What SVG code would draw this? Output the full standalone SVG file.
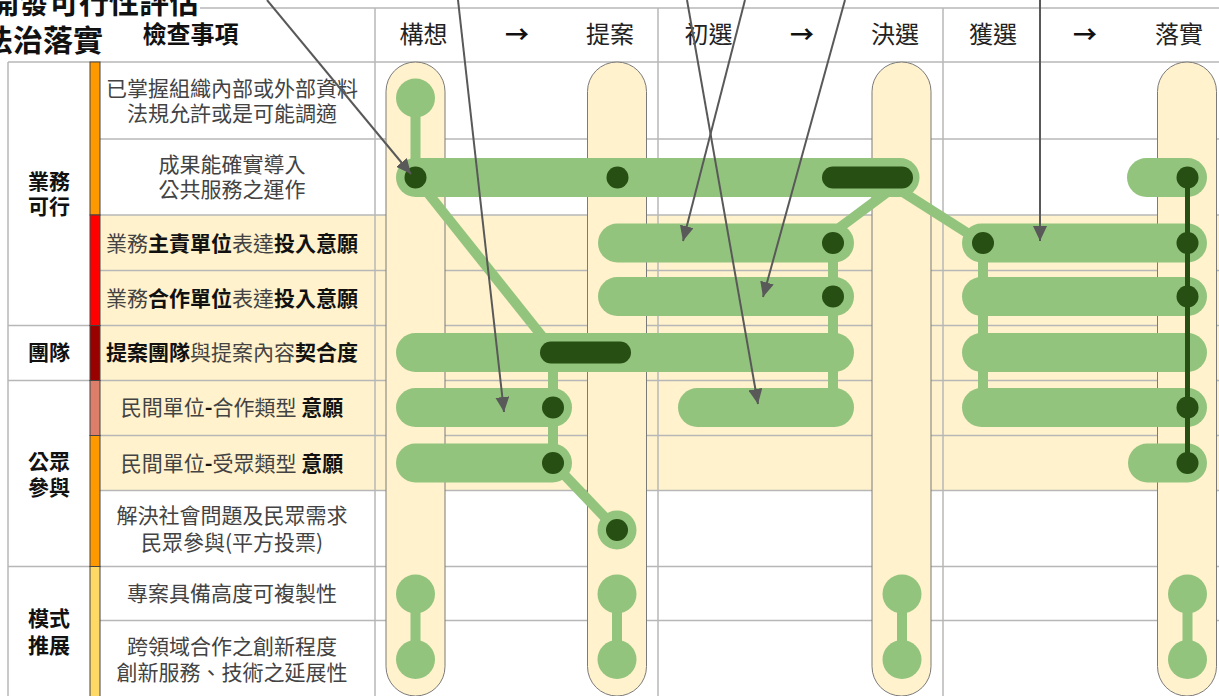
<svg xmlns="http://www.w3.org/2000/svg" width="1219" height="696" viewBox="0 0 1219 696">
<style>
text{font-family:"Noto Sans CJK TC","Noto Sans CJK SC",sans-serif;}
.grid{stroke:#b7b7b7;stroke-width:1.5;fill:none;}
.pill{fill:#fff2cc;stroke:#7a7a7a;stroke-width:1;}
.bar{stroke:#93c47d;stroke-width:39;stroke-linecap:round;fill:none;}
.dbar{stroke:#274e13;stroke-width:22;stroke-linecap:round;fill:none;}
.con{stroke:#93c47d;stroke-width:10;fill:none;}
.lc{fill:#93c47d;}
.dot{fill:#274e13;}
.arr{stroke:#595959;stroke-width:2;fill:none;marker-end:url(#ah);}
.item{font-size:21px;fill:#434343;text-anchor:middle;}
.b{font-weight:bold;fill:#111;}
.grp{font-size:21px;font-weight:bold;fill:#111;text-anchor:middle;}
.hd{font-size:24px;fill:#222;text-anchor:middle;}
.hb{font-size:24px;font-weight:bold;fill:#111;text-anchor:middle;}
.ttl{font-size:30px;font-weight:bold;fill:#111;text-anchor:end;}
</style>
<defs>
<marker id="ah" markerUnits="userSpaceOnUse" markerWidth="16" markerHeight="14" refX="15" refY="7" orient="auto">
<path d="M0,0 L15,7 L0,14 z" fill="#595959"/>
</marker>
</defs>
<rect width="1219" height="696" fill="#fff"/>
<rect x="100" y="215" width="1119" height="275.5" fill="#fff2cc"/>
<g id="grid" class="grid">
<line x1="200" y1="8" x2="1219" y2="8"/>
<line x1="8" y1="62" x2="1219" y2="62"/>
<line x1="8" y1="62" x2="8" y2="696"/>
<line x1="375" y1="8" x2="375" y2="696"/>
<line x1="658" y1="8" x2="658" y2="696"/>
<line x1="943" y1="8" x2="943" y2="696"/>
<line x1="8" y1="325.5" x2="1219" y2="325.5"/>
<line x1="8" y1="380.5" x2="1219" y2="380.5"/>
<line x1="8" y1="566.5" x2="1219" y2="566.5"/>
<line x1="90" y1="139" x2="1219" y2="139"/>
<line x1="90" y1="215" x2="1219" y2="215"/>
<line x1="90" y1="270.5" x2="1219" y2="270.5"/>
<line x1="90" y1="435.5" x2="1219" y2="435.5"/>
<line x1="90" y1="490.5" x2="1219" y2="490.5"/>
<line x1="90" y1="620.5" x2="1219" y2="620.5"/>
</g>
<g id="colorbar" stroke="#444" stroke-width="1">
<rect x="90" y="62" width="10" height="153" fill="#ff9900"/>
<rect x="90" y="215" width="10" height="110.5" fill="#ff0000"/>
<rect x="90" y="325.5" width="10" height="55" fill="#990000"/>
<rect x="90" y="380.5" width="10" height="55" fill="#dd7e6b"/>
<rect x="90" y="435.5" width="10" height="131" fill="#ff9900"/>
<rect x="90" y="566.5" width="10" height="131" fill="#ffd966"/>
</g>
<g id="title">
<text class="ttl" x="199" y="13">開發可行性評估</text>
<text class="ttl" x="103" y="51">法治落實</text>
</g>
<g id="header">
<text class="hb" x="190.5" y="43">檢查事項</text>
<text class="hd" x="423.5" y="43">構想</text>
<text class="hb" x="517" y="43">→</text>
<text class="hd" x="610" y="43">提案</text>
<text class="hd" x="708.5" y="43">初選</text>
<text class="hb" x="802" y="43">→</text>
<text class="hd" x="895" y="43">決選</text>
<text class="hd" x="993" y="43">獲選</text>
<text class="hb" x="1085" y="43">→</text>
<text class="hd" x="1179" y="43">落實</text>
</g>
<g id="groups">
<text class="grp" x="49" y="189">業務</text>
<text class="grp" x="49" y="214">可行</text>
<text class="grp" x="49" y="360">團隊</text>
<text class="grp" x="49" y="469">公眾</text>
<text class="grp" x="49" y="494.5">參與</text>
<text class="grp" x="49" y="626">模式</text>
<text class="grp" x="49" y="653">推展</text>
</g>
<g id="items">
<text class="item" x="232" y="96">已掌握組織內部或外部資料</text>
<text class="item" x="232" y="120.5">法規允許或是可能調適</text>
<text class="item" x="232" y="172">成果能確實導入</text>
<text class="item" x="232" y="197">公共服務之運作</text>
<text class="item" x="232" y="251">業務<tspan class="b">主責單位</tspan>表達<tspan class="b">投入意願</tspan></text>
<text class="item" x="232" y="306">業務<tspan class="b">合作單位</tspan>表達<tspan class="b">投入意願</tspan></text>
<text class="item" x="232" y="360"><tspan class="b">提案團隊</tspan>與提案內容<tspan class="b">契合度</tspan></text>
<text class="item" x="232" y="414.5">民間單位<tspan class="b">-</tspan>合作類型 <tspan class="b">意願</tspan></text>
<text class="item" x="232" y="471">民間單位<tspan class="b">-</tspan>受眾類型 <tspan class="b">意願</tspan></text>
<text class="item" x="232" y="523">解決社會問題及民眾需求</text>
<text class="item" x="232" y="550">民眾參與(平方投票)</text>
<text class="item" x="232" y="601">專案具備高度可複製性</text>
<text class="item" x="232" y="654">跨領域合作之創新程度</text>
<text class="item" x="232" y="680">創新服務、技術之延展性</text>
</g>
<g id="stages">
<rect id="stage-gouxiang" class="pill" x="386" y="62" width="59" height="634" rx="29.5"/>
<rect id="stage-tian" class="pill" x="587.5" y="62" width="59" height="634" rx="29.5"/>
<rect id="stage-juexuan" class="pill" x="872" y="62" width="59" height="634" rx="29.5"/>
<rect id="stage-luoshi" class="pill" x="1157.5" y="62" width="59" height="634" rx="29.5"/>
</g>
<g id="tracks">
<line class="bar" x1="415.5" y1="177.5" x2="900" y2="177.5"/>
<line class="bar" x1="1146.5" y1="177.5" x2="1187.5" y2="177.5"/>
<line class="bar" x1="617.5" y1="243" x2="834.5" y2="243"/>
<line class="bar" x1="617.5" y1="296.5" x2="834.5" y2="296.5"/>
<line class="bar" x1="415.5" y1="352.5" x2="834.5" y2="352.5"/>
<line class="bar" x1="415.5" y1="407.5" x2="552.5" y2="407.5"/>
<line class="bar" x1="697.5" y1="407.5" x2="834.5" y2="407.5"/>
<line class="bar" x1="415.5" y1="463" x2="552.5" y2="463"/>
<line class="bar" x1="981.5" y1="243" x2="1187.5" y2="243"/>
<line class="bar" x1="981.5" y1="296.5" x2="1187.5" y2="296.5"/>
<line class="bar" x1="981.5" y1="352.5" x2="1187.5" y2="352.5"/>
<line class="bar" x1="981.5" y1="407.5" x2="1187.5" y2="407.5"/>
<line class="bar" x1="1147.5" y1="463" x2="1187.5" y2="463"/>
</g>
<g id="connectors">
<line class="con" x1="415.5" y1="98" x2="415.5" y2="177.5"/>
<line class="con" x1="415.5" y1="177.5" x2="555" y2="352.5"/>
<line class="con" x1="907" y1="177.5" x2="823" y2="240"/>
<line class="con" x1="880" y1="177.5" x2="983" y2="243"/>
<line class="con" x1="833" y1="243" x2="833" y2="407.5"/>
<line class="con" x1="553" y1="352.5" x2="553" y2="463"/>
<line class="con" x1="553" y1="463" x2="617" y2="530"/>
<line class="con" x1="983" y1="243" x2="983" y2="407.5"/>
<line class="con" x1="415.5" y1="594" x2="415.5" y2="659.5"/>
<line class="con" x1="617" y1="594" x2="617" y2="659.5"/>
<line class="con" x1="902" y1="594" x2="902" y2="659.5"/>
<line class="con" x1="1187.5" y1="594" x2="1187.5" y2="659.5"/>
<line x1="1187.5" y1="177.5" x2="1187.5" y2="463" stroke="#274e13" stroke-width="5"/>
</g>
<g id="milestones">
<circle class="lc" cx="415.5" cy="98" r="19.5"/>
<circle class="lc" cx="617" cy="530" r="19.5"/>
<circle class="lc" cx="415.5" cy="594" r="19.5"/>
<circle class="lc" cx="415.5" cy="659.5" r="19.5"/>
<circle class="lc" cx="617" cy="594" r="19.5"/>
<circle class="lc" cx="617" cy="659.5" r="19.5"/>
<circle class="lc" cx="902" cy="594" r="19.5"/>
<circle class="lc" cx="902" cy="659.5" r="19.5"/>
<circle class="lc" cx="1187.5" cy="594" r="19.5"/>
<circle class="lc" cx="1187.5" cy="659.5" r="19.5"/>
<line class="dbar" x1="833" y1="177.5" x2="902" y2="177.5"/>
<line class="dbar" x1="551" y1="352.5" x2="620" y2="352.5"/>
<circle class="dot" cx="415.5" cy="177.5" r="11"/>
<circle class="dot" cx="617.5" cy="177.5" r="11"/>
<circle class="dot" cx="833" cy="243" r="11"/>
<circle class="dot" cx="833" cy="296.5" r="11"/>
<circle class="dot" cx="553" cy="407.5" r="11"/>
<circle class="dot" cx="553" cy="463" r="11"/>
<circle class="dot" cx="617" cy="530" r="11"/>
<circle class="dot" cx="983" cy="243" r="11"/>
<circle class="dot" cx="1187.5" cy="177.5" r="11"/>
<circle class="dot" cx="1187.5" cy="243" r="11"/>
<circle class="dot" cx="1187.5" cy="296.5" r="11"/>
<circle class="dot" cx="1187.5" cy="407.5" r="11"/>
<circle class="dot" cx="1187.5" cy="463" r="11"/>
</g>
<g id="pointers">
<line class="arr" x1="267" y1="0" x2="411" y2="174"/>
<line class="arr" x1="458" y1="0" x2="504" y2="412"/>
<line class="arr" x1="687" y1="0" x2="758" y2="404"/>
<line class="arr" x1="745" y1="0" x2="683" y2="241"/>
<line class="arr" x1="845" y1="0" x2="763" y2="297"/>
<line class="arr" x1="1040" y1="0" x2="1040" y2="241"/>
</g>
</svg>
